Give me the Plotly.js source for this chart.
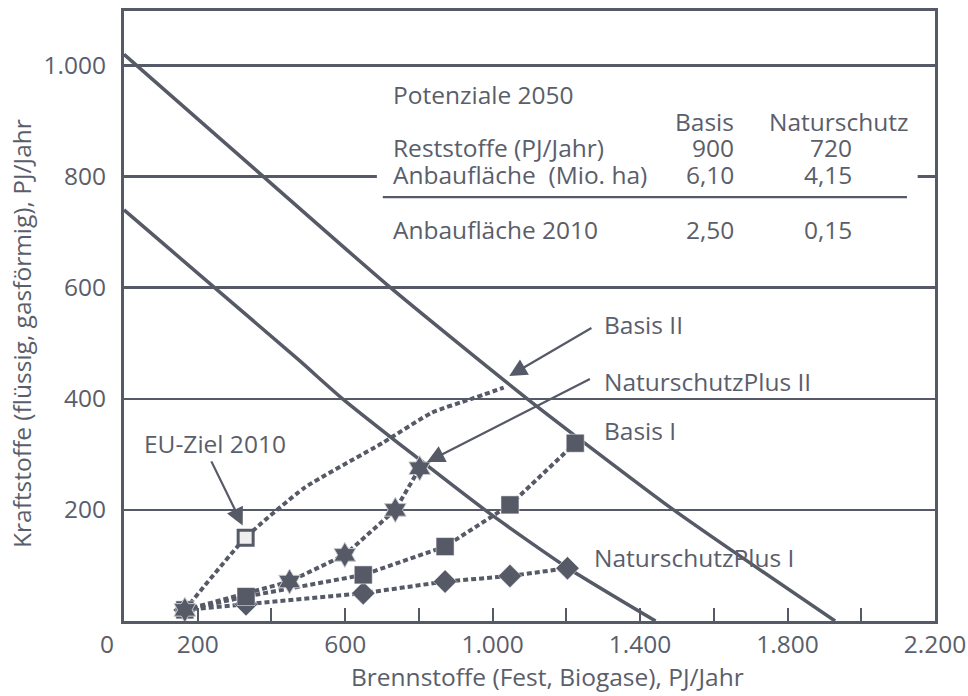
<!DOCTYPE html>
<html>
<head>
<meta charset="utf-8">
<script src="https://cdn.plot.ly/plotly-3.0.1.min.js"></script>
<style>html,body{margin:0;padding:0;background:#fff;}#chart{width:968px;height:696px;}</style>
</head>
<body>
<div id="chart"></div>
<script>
// ---- data ----
const upperX = [0, 378, 723, 1094, 1491, 1929];
const upperY = [1020, 800, 600, 400, 200, 0];
const lowerX = [0, 128, 474, 593, 979, 1205, 1442];
const lowerY = [740, 667, 470, 400, 200, 95, 0];

const basis2X = [165, 330, 490, 700, 835, 943, 1030];
const basis2Y = [20, 150, 240, 320, 375, 400, 420];
const nsp2X = [165, 449, 599, 736, 802];
const nsp2Y = [20, 71, 119, 200, 275];
const basis1X = [165, 331, 649, 871, 1047, 1224];
const basis1Y = [20, 44, 83, 134, 209, 320];
const nsp1X = [165, 331, 649, 871, 1047, 1203];
const nsp1Y = [20, 30, 50, 71, 81, 95];
const euZielX = [330];
const euZielY = [150];

const xTickVals = [200, 400, 600, 800, 1000, 1200, 1400, 1600, 1800, 2000, 2200];
const xTickText = ['200', '', '600', '', '1.000', '', '1.400', '', '1.800', '', '2.200'];
const yTickVals = [200, 400, 600, 800, 1000];
const yTickText = ['200', '400', '600', '800', '1.000'];

const tableRows = ['Reststoffe (PJ/Jahr)', 'Anbaufläche  (Mio. ha)'];
const tableBasis = ['900', '6,10'];
const tableNatur = ['720', '4,15'];
const row2010 = ['Anbaufläche 2010', '2,50', '0,15'];

// ---- style ----
const C = '#565a67';
const TXT = '#5a5e6b';
const FONT = 'Open Sans, Noto Sans, sans-serif';

const dashed = {color: C, width: 4, dash: '5px,3px'};

const traces = [
  {x: upperX, y: upperY, mode: 'lines', line: {color: C, width: 3.5, shape: 'spline', smoothing: 0.6}, hoverinfo: 'skip'},
  {x: lowerX, y: lowerY, mode: 'lines', line: {color: C, width: 3.5, shape: 'spline', smoothing: 0.6}, hoverinfo: 'skip'},
  {x: basis2X, y: basis2Y, mode: 'lines', line: Object.assign({shape: 'spline', smoothing: 0.5}, dashed)},
  {x: nsp1X, y: nsp1Y, mode: 'lines+markers', line: dashed,
   marker: {symbol: 'diamond', size: 18, color: C, line: {color: '#ffffff', width: 0.5}}},
  {x: basis1X, y: basis1Y, mode: 'lines+markers', line: dashed,
   marker: {symbol: 'square', size: 18, color: C, line: {color: '#ffffff', width: 0.5}}},
  {x: nsp2X, y: nsp2Y, mode: 'lines+markers', line: dashed,
   marker: {symbol: 'hexagram', size: 19, color: C, line: {color: '#c8c9ce', width: 1}}},
  {x: euZielX, y: euZielY, mode: 'markers',
   marker: {symbol: 'square', size: 15, color: '#efefef', line: {color: C, width: 3}}}
];

const fs = 24.5;
const ann = [];
function txt(x, y, t, xa, extra) {
  ann.push(Object.assign({x: x, y: y, xref: 'x', yref: 'y', text: t, showarrow: false,
    xanchor: xa || 'left', yanchor: 'middle', font: {family: FONT, size: fs, color: TXT}}, extra || {}));
}
function arrow(tx, ty, hx, hy) {
  ann.push({x: hx, y: hy, ax: tx, ay: ty, xref: 'x', yref: 'y', axref: 'x', ayref: 'y',
    text: '', showarrow: true, arrowhead: 2, arrowsize: 1.6, arrowwidth: 2.2, arrowcolor: C, standoff: 0});
}

// chart labels
txt(248, 320, 'EU-Ziel 2010', 'center');
arrow(235, 290, 322, 172);
txt(1296, 533, 'Basis II');
arrow(1272, 529, 1045, 441);
txt(1296, 431, 'NaturschutzPlus II');
arrow(1268, 437, 822, 286);
txt(1296, 343, 'Basis I');
txt(1270, 115, 'NaturschutzPlus I');
// origin label
ann.push({x: 0, y: 0, xref: 'x', yref: 'y', text: '0', showarrow: false, xanchor: 'center', yanchor: 'middle',
  xshift: -17, yshift: -22, font: {family: FONT, size: fs, color: TXT}});

// axis titles
ann.push({x: 0.5216, y: 0, xref: 'paper', yref: 'paper', yshift: -55, text: 'Brennstoffe (Fest, Biogase), PJ/Jahr',
  showarrow: false, xanchor: 'center', yanchor: 'middle', font: {family: FONT, size: fs, color: TXT}});
ann.push({x: 0, y: 0.4705, xref: 'paper', yref: 'paper', xshift: -102, text: 'Kraftstoffe (flüssig, gasförmig), PJ/Jahr',
  textangle: -90, showarrow: false, xanchor: 'center', yanchor: 'middle', font: {family: FONT, size: fs, color: TXT}});

// table
txt(725, 947, 'Potenziale 2050');
txt(1660, 900, 'Basis', 'right');
txt(1745, 900, 'Naturschutz');
const rowY = [852, 803];
for (let i = 0; i < tableRows.length; i++) {
  txt(725, rowY[i], tableRows[i]);
  txt(1660, rowY[i], tableBasis[i], 'right');
  txt(1980, rowY[i], tableNatur[i], 'right');
}
txt(725, 704, row2010[0]);
txt(1660, 704, row2010[1], 'right');
txt(1980, 704, row2010[2], 'right');

const shapes = [
  {type: 'rect', xref: 'x', yref: 'y', x0: 686, x1: 2153, y0: 670, y1: 982, fillcolor: '#ffffff', line: {width: 0}, layer: 'above'},
  {type: 'line', xref: 'x', yref: 'y', x0: 702, x1: 2124, y0: 763, y1: 763, line: {color: C, width: 2.2}, layer: 'above'}
];

const layout = {
  width: 968, height: 696,
  margin: {l: 124, r: 33, t: 11, b: 75},
  paper_bgcolor: '#ffffff', plot_bgcolor: '#ffffff',
  showlegend: false,
  font: {family: FONT, color: TXT, size: fs},
  xaxis: {
    range: [0, 2200], tickvals: xTickVals, ticktext: xTickText,
    ticks: 'inside', ticklen: 13, tickwidth: 2, tickcolor: C,
    showgrid: false, zeroline: false,
    showline: true, mirror: true, linecolor: C, linewidth: 3,
    ticklabelstandoff: 0,
    tickfont: {family: FONT, size: fs, color: TXT}
  },
  yaxis: {
    range: [0, 1098], tickvals: yTickVals, ticktext: yTickText,
    ticks: '', showgrid: true, gridcolor: C, gridwidth: 2.5, zeroline: false,
    showline: true, mirror: true, linecolor: C, linewidth: 3,
    ticklabelstandoff: 10,
    tickfont: {family: FONT, size: fs, color: TXT}
  },
  shapes: shapes,
  annotations: ann
};

Plotly.newPlot('chart', traces, layout, {displayModeBar: false, staticPlot: true});
</script>
</body>
</html>
